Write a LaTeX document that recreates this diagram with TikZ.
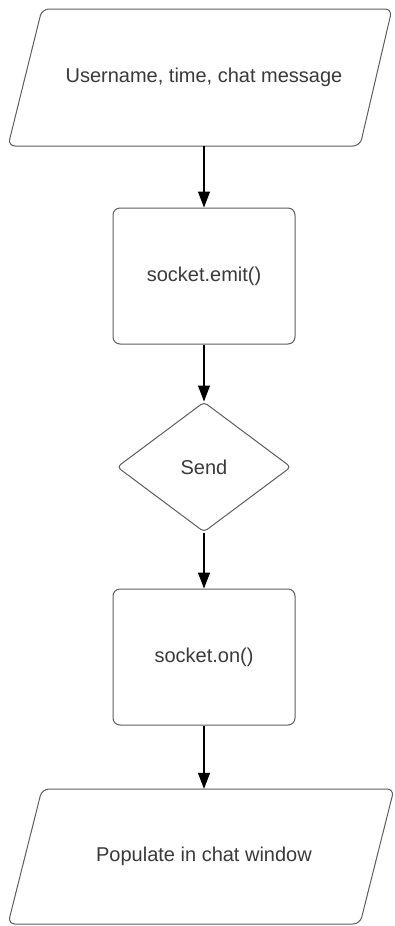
\documentclass[tikz,border=0pt]{standalone}
\usepackage{fontspec}
\setmainfont{Liberation Sans}
\usetikzlibrary{arrows.meta,shapes.geometric}
\definecolor{bordergray}{HTML}{5E5E5E}
\definecolor{textgray}{HTML}{3A3A3A}
\tikzset{
  box/.style={draw=bordergray, line width=1pt, rounded corners=7pt, minimum width=182pt, minimum height=136pt, text=textgray, font=\fontsize{20}{24}\selectfont},
  decide/.style={diamond, draw=bordergray, line width=1pt, rounded corners=4pt, minimum width=174pt, minimum height=130pt, inner sep=0pt, text=textgray, font=\fontsize{20}{24}\selectfont},
  io/.style={minimum width=340pt, minimum height=137pt, inner sep=0pt, text=textgray, font=\fontsize{20}{24}\selectfont},
  ioshape/.style={draw=bordergray, line width=1pt, rounded corners=7pt},
  flow/.style={draw=black, line width=1.2pt, -{Triangle[length=16pt,width=12pt]}}
}
\begin{document}
\begin{tikzpicture}[x=1pt,y=-1pt]
\useasboundingbox (0,0) rectangle (395,926);
\fill[white] (0,0) rectangle (395,926);
% top parallelogram
\draw[ioshape] (42,9) -- (392,9) -- (360,146) -- (8,146) -- cycle;
\node[io] (in) at (204,77.5) {Username, time, chat message};
% socket.emit
\node[box] (emit) at (204,276) {socket.emit()};
% diamond
\node[decide] (send) at (204,467) {Send};
% socket.on
\node[box] (on) at (204,657) {socket.on()};
% bottom parallelogram
\draw[ioshape] (42,789) -- (394,789) -- (360,924) -- (8,924) -- cycle;
\node[io, minimum height=135pt] (out) at (204,856.5) {Populate in chat window};
% connectors
\draw[flow] (in.south) -- (emit.north);
\draw[flow] (emit.south) -- (send.north);
\draw[flow] (send.south) -- (on.north);
\draw[flow] (on.south) -- (out.north);
\end{tikzpicture}
\end{document}
